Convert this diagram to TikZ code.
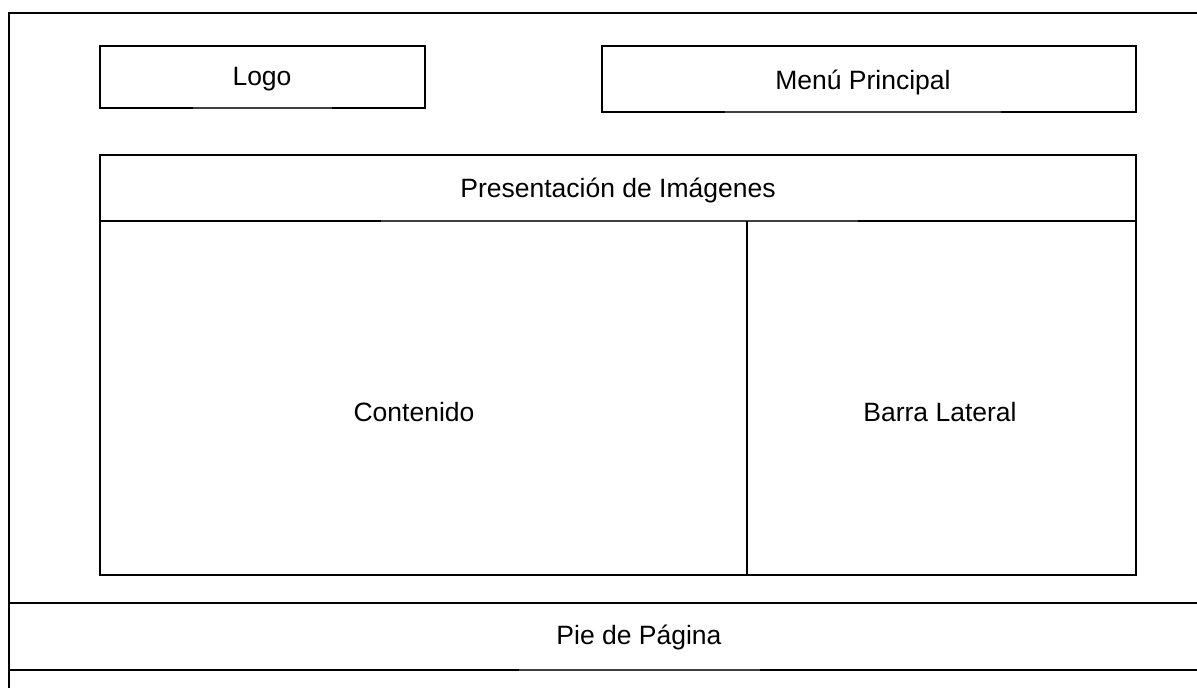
\documentclass[tikz,border=0pt]{standalone}
\usepackage{fontspec}
\setmainfont{Liberation Sans}
\begin{document}
\begin{tikzpicture}[x=1pt,y=-1pt,
  thickline/.style={line width=2.4pt,black},
  thinline/.style={line width=1.2pt,black!75},
  area/.style={draw=none,inner sep=0pt,outer sep=0pt,anchor=north west},
  lbl/.style={font=\fontsize{26.5}{31}\selectfont,text=black}]
\useasboundingbox (0,0) rectangle (1197,688);
% areas (named)
\node[area,minimum width=1188pt,minimum height=675pt] (page) at (9,13) {};
\node[area,minimum width=325pt,minimum height=62pt] (logo) at (100,46) {};
\node[area,minimum width=534pt,minimum height=66pt] (menu) at (602,46) {};
\node[area,minimum width=1036pt,minimum height=66pt] (pres) at (100,155) {};
\node[area,minimum width=647pt,minimum height=354pt] (cont) at (100,221) {};
\node[area,minimum width=389pt,minimum height=354pt] (barra) at (747,221) {};
\node[area,minimum width=1188pt,minimum height=67pt] (pie) at (9,603) {};
% gap coordinates on bottom edges
\coordinate (logoA) at (193,108);   \coordinate (logoB) at (332,108);
\coordinate (menuA) at (725,112);   \coordinate (menuB) at (1001,112);
\coordinate (presA) at (381,221);   \coordinate (presB) at (858,221);
\coordinate (pieA) at (519,670);    \coordinate (pieB) at (760,670);
% outer frame
\draw[thickline] (page.south west) -- (page.north west) -- (page.north east);
% logo
\draw[thickline] (logoA) -- (logo.south west) -- (logo.north west) -- (logo.north east) -- (logo.south east) -- (logoB);
\draw[thinline] (logoA) -- (logoB);
% menu
\draw[thickline] (menuA) -- (menu.south west) -- (menu.north west) -- (menu.north east) -- (menu.south east) -- (menuB);
\draw[thinline] (menuA) -- (menuB);
% presentacion
\draw[thickline] (presA) -- (pres.south west) -- (pres.north west) -- (pres.north east) -- (pres.south east) -- (presB);
\draw[thinline] (presA) -- (presB);
% contenido and barra
\draw[thickline] (cont.north west) -- (cont.south west) -- (barra.south east) -- (barra.north east);
\draw[thickline] (barra.north west) -- (barra.south west);
% pie
\draw[thickline] (pie.north west) -- (pie.north east);
\draw[thickline] (pie.north west) -- (pie.south west) -- (pieA);
\draw[thickline] (pieB) -- (pie.south east);
\draw[thinline] (pieA) -- (pieB);
% labels
\node[lbl] (tlogo) at (262,79) {Logo};
\node[lbl] (tmenu) at (863,82) {Menú Principal};
\node[lbl] (tpres) at (618,190) {Presentación de Imágenes};
\node[lbl] (tcont) at (414,412) {Contenido};
\node[lbl] (tbarra) at (940,412) {Barra Lateral};
\node[lbl] (tpie) at (639,637) {Pie de Página};
\end{tikzpicture}
\end{document}
